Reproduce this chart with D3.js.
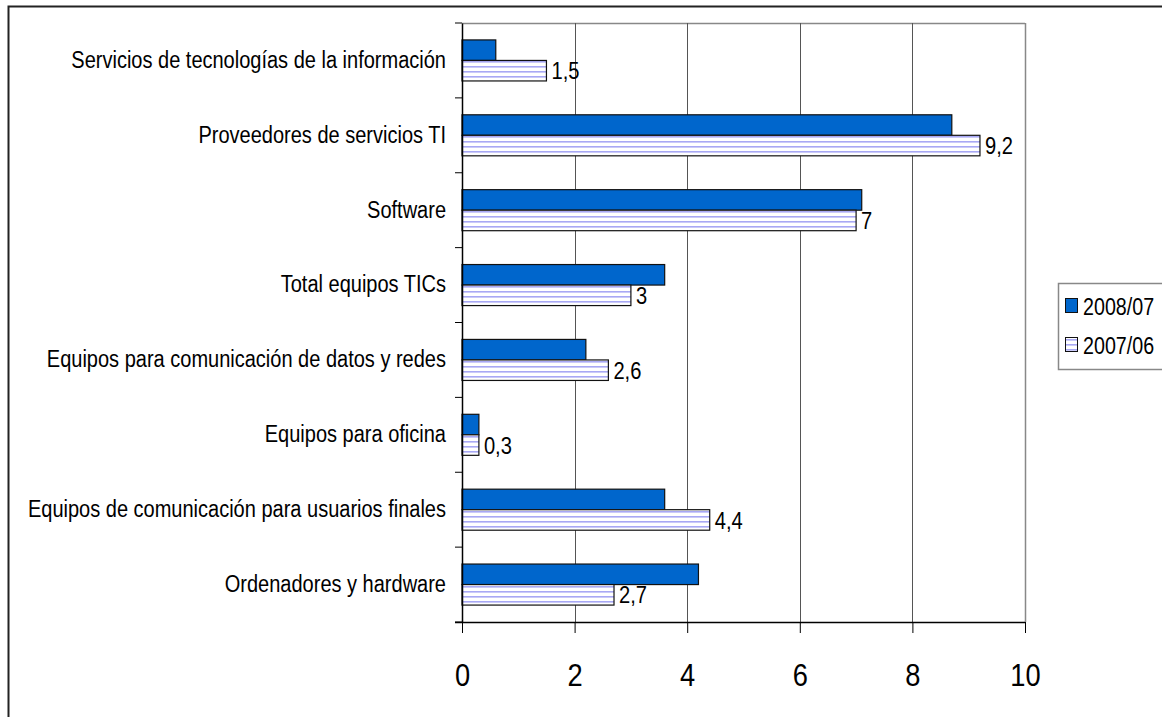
<!DOCTYPE html>
<html>
<head>
<meta charset="utf-8">
<script src="https://cdn.jsdelivr.net/npm/d3@7"></script>
<style>
  html, body { margin: 0; padding: 0; background: #fff; }
  svg { display: block; }
  text { font-family: "Liberation Sans", Arial, sans-serif; fill: #000; }
</style>
</head>
<body>
<svg id="chart" width="1162" height="717"></svg>
<script>
// Categories, top to bottom
const categories = [
  "Servicios de tecnologías de la información",
  "Proveedores de servicios TI",
  "Software",
  "Total equipos TICs",
  "Equipos para comunicación de datos y redes",
  "Equipos para oficina",
  "Equipos de comunicación para usuarios finales",
  "Ordenadores y hardware"
];
const seriesNames = ["2008/07", "2007/06"];
const values2008 = [0.6, 8.7, 7.1, 3.6, 2.2, 0.3, 3.6, 4.2];
const values2007 = [1.5, 9.2, 7, 3, 2.6, 0.3, 4.4, 2.7];
const xTicks = [0, 2, 4, 6, 8, 10];
const fmt = v => String(v).replace(".", ",");

// condensed look for the labels
const NARROW = 0.84;
const NARROW_CAT = 0.87;

const svg = d3.select("#chart");

// Striped fill for the 2007/06 series
const defs = svg.append("defs");
const pat = defs.append("pattern")
  .attr("id", "stripes").attr("patternUnits", "userSpaceOnUse")
  .attr("width", 8).attr("height", 5);
pat.append("rect").attr("width", 8).attr("height", 5).attr("fill", "#ffffff");
pat.append("rect").attr("y", 1).attr("width", 8).attr("height", 1.6).attr("fill", "#a8a8f4");

// Outer frame
svg.append("rect").attr("x", 8.5).attr("y", 6.5).attr("width", 1300).attr("height", 800)
  .attr("fill", "none").attr("stroke", "#222").attr("stroke-width", 2);

const plot = { left: 462, right: 1025, top: 23, bottom: 622 };
const x = d3.scaleLinear().domain([0, 10]).range([plot.left, plot.right]);
const y = d3.scaleBand().domain(categories).range([plot.top, plot.bottom]);
const inner = d3.scaleBand().domain(seriesNames)
  .range([y.bandwidth() * 0.226, y.bandwidth() * 0.774]);

// Plot area border (top/right) and vertical gridlines
svg.append("line").attr("x1", plot.left).attr("x2", plot.right)
  .attr("y1", plot.top + 0.5).attr("y2", plot.top + 0.5).attr("stroke", "#888").attr("stroke-width", 1.5);
svg.append("g").selectAll("line").data(xTicks.filter(d => d > 0)).join("line")
  .attr("x1", d => Math.round(x(d)) + 0.5).attr("x2", d => Math.round(x(d)) + 0.5)
  .attr("y1", plot.top).attr("y2", plot.bottom)
  .attr("stroke", d => d === 10 ? "#888" : "#555").attr("stroke-width", d => d === 10 ? 1.5 : 1);

// Bars
const rows = categories.map((c, i) => ({ c, v: [values2008[i], values2007[i]] }));
const g = svg.append("g");
rows.forEach(r => {
  seriesNames.forEach((s, k) => {
    g.append("rect")
      .attr("x", x(0))
      .attr("y", y(r.c) + inner(s))
      .attr("width", x(r.v[k]) - x(0))
      .attr("height", inner.bandwidth())
      .attr("fill", k === 0 ? "#0066cc" : "url(#stripes)")
      .attr("stroke", "#111").attr("stroke-width", 1.2);
  });
  // value label for the 2007/06 bar
  const ly = y(r.c) + inner(seriesNames[1]) + inner.bandwidth() / 2;
  g.append("text")
    .attr("transform", `translate(${x(r.v[1]) + 5},${ly}) scale(${NARROW},1)`)
    .attr("dy", "0.36em")
    .attr("font-size", 24)
    .text(fmt(r.v[1]));
});

// Category axis
const yAxis = d3.axisLeft(y).tickSize(0).tickPadding(16);
const yG = svg.append("g").attr("transform", `translate(${plot.left},0)`).call(yAxis);
yG.attr("font-family", null);
yG.select(".domain").attr("stroke", "#000").attr("stroke-width", 1.5);
yG.selectAll("text").attr("font-size", 23)
  .attr("x", 0).attr("transform", `translate(-16,0) scale(${NARROW_CAT},1)`);
// boundary ticks between categories
svg.append("g").selectAll("line").data(d3.range(categories.length + 1)).join("line")
  .attr("x1", plot.left - 7).attr("x2", plot.left)
  .attr("y1", i => plot.top + i * y.step()).attr("y2", i => plot.top + i * y.step())
  .attr("stroke", "#000");

// Value axis
const xAxis = d3.axisBottom(x).tickValues(xTicks).tickSize(11).tickPadding(31).tickFormat(d => d);
const xG = svg.append("g").attr("transform", `translate(0,${plot.bottom})`).call(xAxis);
xG.attr("font-family", null);
xG.select(".domain").attr("d", `M${plot.left - 7},0.5H${plot.right}`).attr("stroke", "#000").attr("stroke-width", 1.5);
xG.selectAll(".tick line").attr("stroke", "#000");
xG.selectAll("text").attr("font-size", 31).attr("transform", `scale(0.88,1)`);

// Legend
const lg = svg.append("g").attr("transform", "translate(1058,283)");
lg.append("rect").attr("x", 0.5).attr("y", 0.5).attr("width", 200).attr("height", 86)
  .attr("fill", "#fff").attr("stroke", "#888").attr("stroke-width", 1.5);
seriesNames.forEach((s, k) => {
  const yy = 23 + k * 39;
  lg.append("rect").attr("x", 7.5).attr("y", yy - 7.5).attr("width", 12).attr("height", 14)
    .attr("fill", k === 0 ? "#0066cc" : "url(#stripes)").attr("stroke", "#111");
  lg.append("text").attr("transform", `translate(25,${yy}) scale(0.82,1)`).attr("dy", "0.36em")
    .attr("font-size", 24).text(s);
});
</script>
</body>
</html>
